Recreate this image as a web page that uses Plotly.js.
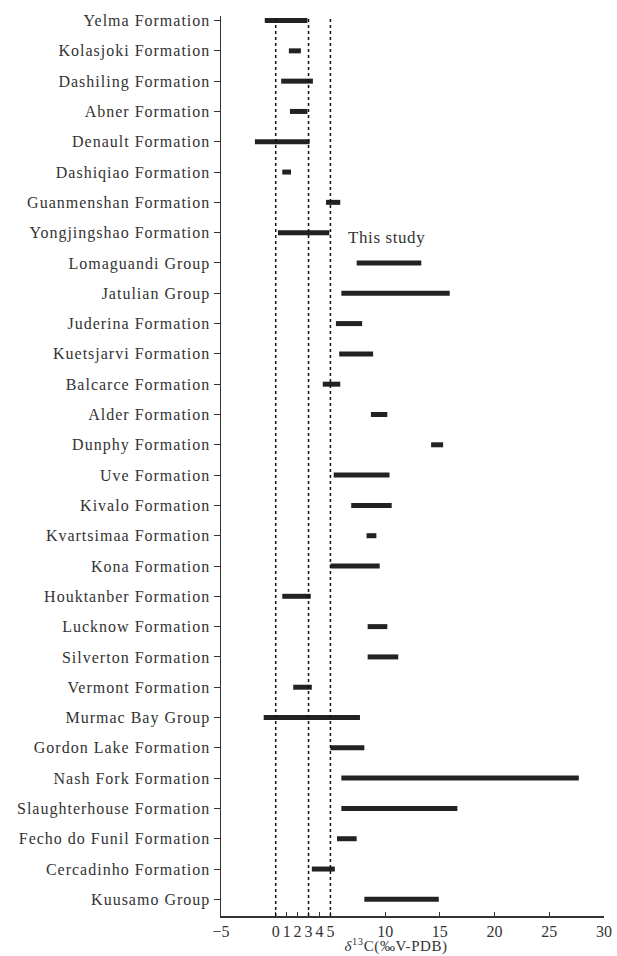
<!DOCTYPE html>
<html>
<head>
<meta charset="utf-8">
<script src="https://cdn.plot.ly/plotly-3.0.1.min.js"></script>
<style>
html,body{margin:0;padding:0;background:#fff;}
#chart{width:617px;height:956px;}
#chart g.ytick text{letter-spacing:1px;}
#chart g.annotation text{letter-spacing:0.6px;}
</style>
</head>
<body>
<div id="chart"></div>
<script>
var units = ["Yelma Formation","Kolasjoki Formation","Dashiling Formation","Abner Formation","Denault Formation","Dashiqiao Formation","Guanmenshan Formation","Yongjingshao Formation","Lomaguandi Group","Jatulian Group","Juderina Formation","Kuetsjarvi Formation","Balcarce Formation","Alder Formation","Dunphy Formation","Uve Formation","Kivalo Formation","Kvartsimaa Formation","Kona Formation","Houktanber Formation","Lucknow Formation","Silverton Formation","Vermont Formation","Murmac Bay Group","Gordon Lake Formation","Nash Fork Formation","Slaughterhouse Formation","Fecho do Funil Formation","Cercadinho Formation","Kuusamo Group"];
var minVals = [-1.0, 1.2, 0.5, 1.3, -1.9, 0.6, 4.6, 0.2, 7.4, 6.0, 5.5, 5.8, 4.3, 8.7, 14.2, 5.3, 6.9, 8.3, 5.0, 0.6, 8.4, 8.4, 1.6, -1.1, 5.0, 6.0, 6.0, 5.6, 3.3, 8.1];
var maxVals = [2.9, 2.3, 3.4, 2.9, 3.1, 1.4, 5.9, 4.9, 13.3, 15.9, 7.9, 8.9, 5.9, 10.2, 15.3, 10.4, 10.6, 9.2, 9.5, 3.2, 10.2, 11.2, 3.3, 7.7, 8.1, 27.7, 16.6, 7.4, 5.4, 14.9];
var refLines = [0, 3, 5];
var xTicks = [-5, 0, 1, 2, 3, 4, 5, 10, 15, 20, 25, 30];
var xTickText = ["\u22125", "0", "1", "2", "3", "4", "5", "10", "15", "20", "25", "30"];

var xs = [], ys = [];
for (var i = 0; i < units.length; i++) {
  xs.push(minVals[i], maxVals[i], null);
  ys.push(i, i, null);
}
var idx = units.map(function(_, i){ return i; });

var fam = "Liberation Serif, Times New Roman, serif";
var font = {family: fam, size: 15, color: "#333"};

var data = [{
  type: "scatter", mode: "lines", x: xs, y: ys,
  line: {color: "#222", width: 5}, hoverinfo: "skip", showlegend: false
}];

var shapes = refLines.map(function(v){
  return {type: "line", xref: "x", yref: "paper", x0: v, x1: v, y0: 0, y1: 1,
          line: {color: "#111", width: 1.5, dash: "dot"}};
});

var layout = {
  width: 617, height: 956,
  margin: {l: 221, r: 13, t: 16, b: 40},
  paper_bgcolor: "#fff", plot_bgcolor: "#fff",
  font: font,
  showlegend: false,
  xaxis: {
    range: [-5, 30], tickmode: "array", tickvals: xTicks, ticktext: xTickText,
    ticks: "inside", ticklen: 4, tickcolor: "#333", showgrid: false, zeroline: false,
    showline: true, linecolor: "#333", linewidth: 1.5,
    tickfont: {family: fam, size: 16, color: "#333"}
  },
  yaxis: {
    range: [29.55, -0.15], tickmode: "array", tickvals: idx, ticktext: units,
    ticks: "outside", ticklen: 6, tickcolor: "#333", showgrid: false, zeroline: false,
    showline: true, linecolor: "#333", linewidth: 1.5,
    tickfont: {family: fam, size: 16, color: "#333"}
  },
  shapes: shapes,
  annotations: [{
    x: 10.2, y: 7.15, xref: "x", yref: "y", text: "This study", showarrow: false,
    font: {family: fam, size: 17, color: "#333"}
  }, {
    x: 0.457, xref: "paper", y: -0.0444, yref: "paper", showarrow: false,
    text: "<i>\u03b4</i><sup>13</sup>C(\u2030V-PDB)", xanchor: "center", yanchor: "bottom",
    borderpad: 0,
    font: {family: fam, size: 15, color: "#333"}
  }]
};

Plotly.newPlot("chart", data, layout, {displayModeBar: false, staticPlot: true});
</script>
</body>
</html>
